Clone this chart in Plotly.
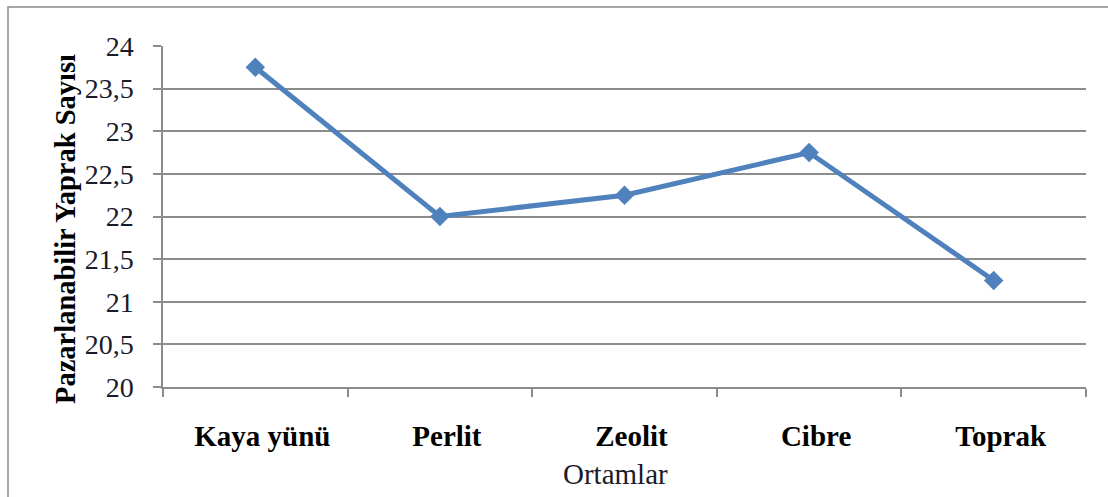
import plotly.graph_objects as go

# Growing media and the mean marketable leaf count measured in each
ortamlar = ["Kaya yünü", "Perlit", "Zeolit", "Cibre", "Toprak"]
yaprak_sayisi = [23.75, 22.0, 22.25, 22.75, 21.25]
y_ticks = [20, 20.5, 21, 21.5, 22, 22.5, 23, 23.5, 24]
y_tick_labels = ["20", "20,5", "21", "21,5", "22", "22,5", "23", "23,5", "24"]

W, H = 1108, 497
ML, MR, MT, MB = 163, 22, 46, 110
LINE_BLUE = "#4F81BD"
GRID = "#8C8C8C"
SERIF = "Liberation Serif"
FS = 29

fig = go.Figure(
    go.Scatter(
        x=ortamlar,
        y=yaprak_sayisi,
        mode="lines+markers",
        line=dict(color=LINE_BLUE, width=5),
        marker=dict(symbol="diamond", size=15, color=LINE_BLUE),
        showlegend=False,
        hoverinfo="x+y",
    )
)

# pixel -> paper coordinate helpers
pw, ph = W - ML - MR, H - MT - MB
def px_x(p):
    return (p - ML) / pw
def px_y(p):
    return (H - MB - p) / ph

# outer chart frame (left and top edges visible, the rest runs off the page)
fig.add_shape(
    type="rect", xref="paper", yref="paper",
    x0=px_x(8), x1=px_x(W + 5), y0=px_y(7), y1=px_y(H + 5),
    line=dict(color="#8A8A8A", width=1.5), layer="below",
)

# axis titles
fig.add_annotation(
    text="Pazarlanabilir Yaprak Sayısı", textangle=-90,
    xref="paper", yref="paper", x=px_x(65), y=px_y(229),
    xanchor="center", yanchor="middle", showarrow=False,
    font=dict(family=SERIF, size=28.5, color="#000000", weight="bold"),
)
fig.add_annotation(
    text="Ortamlar",
    xref="paper", yref="paper", x=px_x(615), y=px_y(474),
    xanchor="center", yanchor="middle", showarrow=False,
    font=dict(family=SERIF, size=FS, color="#1a1a2a"),
)

fig.update_layout(
    width=W, height=H,
    margin=dict(l=ML, r=MR, t=MT, b=MB),
    paper_bgcolor="white", plot_bgcolor="white",
    font=dict(family=SERIF, color="#000000", size=FS),
    xaxis=dict(
        type="category",
        tickson="boundaries",
        ticks="outside", ticklen=8, tickcolor=GRID, tickwidth=1.5,
        showline=True, linecolor=GRID, linewidth=1.5,
        showgrid=False,
        tickfont=dict(family=SERIF, size=FS, color="#000000", weight="bold"),
        ticklabelstandoff=22,
        ticklabelshift=7,
        range=[-0.5, 4.5],
    ),
    yaxis=dict(
        range=[20, 24],
        tickvals=y_ticks, ticktext=y_tick_labels,
        ticks="outside", ticklen=8, tickcolor=GRID, tickwidth=1.5,
        showline=True, linecolor=GRID, linewidth=1.5,
        showgrid=True, gridcolor=GRID, gridwidth=1.5,
        zeroline=False,
        tickfont=dict(family=SERIF, size=28, color="#1a1a2a"),
        ticklabelstandoff=14,
    ),
)

fig.write_html("out.html")
